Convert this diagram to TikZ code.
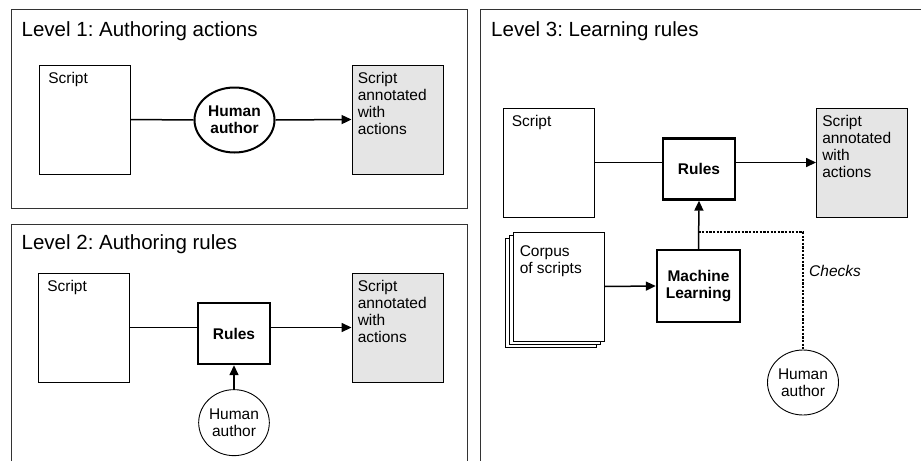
\documentclass[tikz,border=0pt]{standalone}
\usepackage{fontspec}
\setmainfont{Liberation Sans}
\frenchspacing
\usetikzlibrary{positioning, arrows.meta, shapes.geometric, shadows}

\begin{document}
\begin{tikzpicture}[
          x=1pt, y=-1pt,
          panel/.style={draw=black!80, line width=0.9pt},
          title/.style={anchor=base west, inner sep=0pt, font=\fontsize{20.5}{24}\selectfont},
          doc/.style={rectangle, draw, line width=0.9pt, minimum width=91pt, minimum height=109pt, inner sep=0pt},
          annot/.style={doc, fill=black!10},
          doctext/.style={anchor=north west, align=left, inner sep=8pt, font=\fontsize{15.5}{17}\selectfont},
          rulebox/.style={rectangle, draw, line width=2.4pt, minimum width=72pt, minimum height=61pt, align=center, font=\fontsize{15.5}{17.5}\selectfont\bfseries},
          human/.style={ellipse, draw, line width=0.9pt, minimum width=66pt, minimum height=66pt, inner sep=0pt, align=center, font=\fontsize{15.5}{17}\selectfont},
          conn/.style={line width=1.5pt},
          arrow/.style={conn, -{Triangle[length=10pt, width=9pt]}},
          checks/.style={line width=1.2pt, dash pattern=on 2.2pt off 1.4pt}
        ]
          \useasboundingbox (0,0) rectangle (921,461);

          % Panels
          \draw[panel] (11,9) rectangle (467,208);
          \draw[panel] (11,461) |- (467,224) -- (467,461);
          \draw[panel] (921,9) -| (480,461);
          \node[title] (title1) at (21.5,36) {Level 1: Authoring actions};
          \node[title] (title2) at (21.5,249) {Level 2: Authoring rules};
          \node[title] (title3) at (491,36) {Level 3: Learning rules};

          % Level 1
          \node[doc] (script1) at (85,119.5) {};
          \node[doctext, inner xsep=9pt] (s1text) at (script1.north west) {Script};
          \node[human, line width=2pt, minimum width=80pt, minimum height=65pt, font=\fontsize{15.5}{17}\selectfont\bfseries] (author1) at (234.5,120) {Human\\author};
          \node[annot] (annot1) at (397.5,119.5) {};
          \node[doctext, inner xsep=6pt] (a1text) at (annot1.north west) {Script\\annotated\\with\\actions};
          \draw[conn] (script1.east) -- (author1.west);
          \draw[arrow] (author1.east) -- (annot1.west);

          % Level 2
          \node[doc] (script2) at (84,327.5) {};
          \node[doctext, inner xsep=9pt] (s2text) at (script2.north west) {Script};
          \node[rulebox] (rules2) at (234,333.5) {Rules};
          \node[annot] (annot2) at (397.5,327.5) {};
          \node[doctext, inner xsep=6pt] (a2text) at (annot2.north west) {Script\\annotated\\with\\actions};
          \node[human, below=24pt of rules2] (author2) {Human\\author};
          \draw[conn] (script2.east) -- (script2.east -| rules2.west);
          \draw[arrow] (rules2.east |- annot2.west) -- (annot2.west);
          \draw[arrow] (author2) -- (rules2);

          % Level 3
          \node[doc] (script3) at (548.5,162.5) {};
          \node[doctext, inner xsep=9pt] (s3text) at (script3.north west) {Script};
          \node[rulebox] (rules3) at (699,169) {Rules};
          \node[annot] (annot3) at (862,162.5) {};
          \node[doctext, inner xsep=6pt] (a3text) at (annot3.north west) {Script\\annotated\\with\\actions};
          \node[doc, fill=white, double copy shadow={shadow xshift=-4pt, shadow yshift=-3pt, draw, line width=0.9pt}] (corpus) at (558.5,286.5) {};
          \node[doctext, inner xsep=7pt, inner ysep=14pt] (ctext) at (corpus.north west) {Corpus\\of scripts};
          \node[rulebox, minimum width=83pt, minimum height=72pt] (ml) at (698.5,286) {Machine\\Learning};
          \node[human, minimum width=71pt, minimum height=65pt] (author3) at (803,382.5) {Human\\author};
          \coordinate (split) at (698.5,232);
          \draw[conn] (script3.east) -- (script3.east -| rules3.west);
          \draw[arrow] (rules3.east |- annot3.west) -- (annot3.west);
          \draw[arrow] (corpus.east) -- (ml.west);
          \draw[arrow] (ml.north) -- (rules3.south);
          \draw[checks] (split) -| (author3.north);
          \node[anchor=west, inner sep=0pt, font=\fontsize{15.5}{17}\selectfont\itshape] (checks) at (809,271) {Checks};
      \end{tikzpicture}
\end{document}
